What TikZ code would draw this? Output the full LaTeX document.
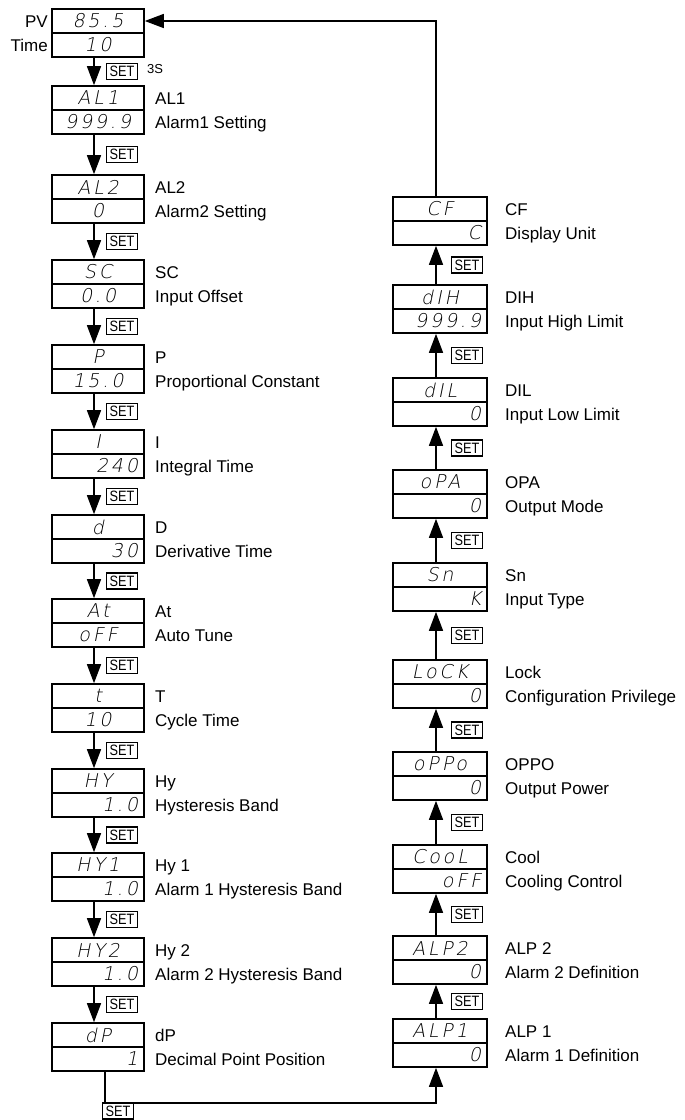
\documentclass[tikz,border=0pt]{standalone}
\usepackage{fontspec}
\setmainfont{Liberation Sans}
\newfontfamily\segfont[FakeSlant=0.2,LetterSpace=15]{DejaVu Sans ExtraLight}
\newfontfamily\setfont[FakeStretch=0.85]{Liberation Sans}
\usetikzlibrary{arrows.meta,calc}
\tikzset{
  rowbox/.style={draw,line width=1.6pt,minimum height=24pt,inner xsep=6pt,inner ysep=0pt,
    font=\segfont\fontsize{19}{19}\selectfont},
  rowL/.style={rowbox,text width=80pt},
  rowR/.style={rowbox,text width=82pt},
  lab/.style={anchor=base west,inner sep=0pt,font=\fontsize{17}{17}\selectfont},
  labE/.style={anchor=base east,inner sep=0pt,font=\fontsize{17}{17}\selectfont},
  setbox/.style={draw,line width=1.3pt,minimum width=31pt,minimum height=16pt,inner sep=0pt,
    font=\setfont\fontsize{15}{15}\selectfont},
  arr/.style={line width=1.4pt,-{Triangle[width=14pt,length=19pt]}},
  wire/.style={line width=1.4pt}
}
% left column display: name, ytop, top text, bottom text, bottom align, label1, label2
\newcommand\leftdisp[7]{%
  \node[rowL,align=center] (#1t) at (98,#2+12) {#3};
  \node[rowL,align=#5] (#1b) at (98,#2+36) {#4};
  \node[lab] (#1la) at (155,#2+18) {#6};
  \node[lab] (#1lb) at (155,#2+42) {#7};
}
\newcommand\rightdisp[7]{%
  \node[rowR,align=center] (#1t) at (440,#2+12) {#3};
  \node[rowR,align=#5] (#1b) at (440,#2+36) {#4};
  \node[lab] (#1la) at (505,#2+18) {#6};
  \node[lab] (#1lb) at (505,#2+42) {#7};
}
\newcommand\downstep[2]{%
  \draw[arr] ([xshift=-4pt]#1b.south) -- ([xshift=-4pt]#2t.north);
  \node[setbox] (set#1) at ($(#1b.south)!0.5!(#2t.north)+(24,0)$) {SET};
}
\newcommand\upstep[2]{%
  \draw[arr] ([xshift=-4pt]#1t.north) -- ([xshift=-4pt]#2b.south);
  \node[setbox] (set#1) at ($(#1t.north)!0.5!(#2b.south)+(27,0)$) {SET};
}
\begin{document}
\begin{tikzpicture}[x=1pt,y=-1pt]
\useasboundingbox (0,0) rectangle (685,1120);
% left column
\node[rowL,align=center] (pvt) at (98,21) {85.5};
\node[rowL,align=center] (pvb) at (98,45) {10};
\node[labE] (pvla) at (48,27) {PV};
\node[labE] (pvlb) at (48,51) {Time};
\leftdisp{al1}{86}{AL1}{999.9}{center}{AL1}{Alarm1 Setting}
\leftdisp{al2}{175}{AL2}{0}{center}{AL2}{Alarm2 Setting}
\leftdisp{sc}{260}{SC}{0.0}{center}{SC}{Input Offset}
\leftdisp{p}{345}{P}{15.0}{center}{P}{Proportional Constant}
\leftdisp{i}{430}{I}{240}{right}{I}{Integral Time}
\leftdisp{d}{515}{d}{30}{right}{D}{Derivative Time}
\leftdisp{at}{599}{At}{oFF}{center}{At}{Auto Tune}
\leftdisp{t}{684}{t}{10}{center}{T}{Cycle Time}
\leftdisp{hy}{769}{HY}{1.0}{right}{Hy}{Hysteresis Band}
\leftdisp{hya}{853}{HY1}{1.0}{right}{Hy 1}{Alarm 1 Hysteresis Band}
\leftdisp{hyb}{938}{HY2}{1.0}{right}{Hy 2}{Alarm 2 Hysteresis Band}
\leftdisp{dp}{1023}{dP}{1}{right}{dP}{Decimal Point Position}
\downstep{pv}{al1}
\node[inner sep=0pt,anchor=west,font=\fontsize{13}{13}\selectfont] (threes) at (147,69) {3S};
\downstep{al1}{al2}
\downstep{al2}{sc}
\downstep{sc}{p}
\downstep{p}{i}
\downstep{i}{d}
\downstep{d}{at}
\downstep{at}{t}
\downstep{t}{hy}
\downstep{hy}{hya}
\downstep{hya}{hyb}
\downstep{hyb}{dp}
% right column
\rightdisp{cf}{197}{CF}{C}{right}{CF}{Display Unit}
\rightdisp{dih}{285}{dIH}{999.9}{right}{DIH}{Input High Limit}
\rightdisp{dil}{378}{dIL}{0}{right}{DIL}{Input Low Limit}
\rightdisp{opa}{470}{oPA}{0}{right}{OPA}{Output Mode}
\rightdisp{sn}{563}{Sn}{K}{right}{Sn}{Input Type}
\rightdisp{lock}{660}{LoCK}{0}{right}{Lock}{Configuration Privilege}
\rightdisp{oppo}{752}{oPPo}{0}{right}{OPPO}{Output Power}
\rightdisp{cool}{845}{CooL}{oFF}{right}{Cool}{Cooling Control}
\rightdisp{alpb}{936}{ALP2}{0}{right}{ALP 2}{Alarm 2 Definition}
\rightdisp{alpa}{1019}{ALP1}{0}{right}{ALP 1}{Alarm 1 Definition}
\upstep{dih}{cf}
\upstep{dil}{dih}
\upstep{opa}{dil}
\upstep{sn}{opa}
\upstep{lock}{sn}
\upstep{oppo}{lock}
\upstep{cool}{oppo}
\upstep{alpb}{cool}
\upstep{alpa}{alpb}
% connectors between columns
\coordinate (bend) at (436,1103);
\draw[arr] ([xshift=7pt]dpb.south) |- (bend) -- ([xshift=-4pt]alpab.south);
\node[setbox] (setdp) at (118,1111) {SET};
\draw[arr] ([xshift=-4pt]cft.north) |- (pvt.east);
\end{tikzpicture}
\end{document}
